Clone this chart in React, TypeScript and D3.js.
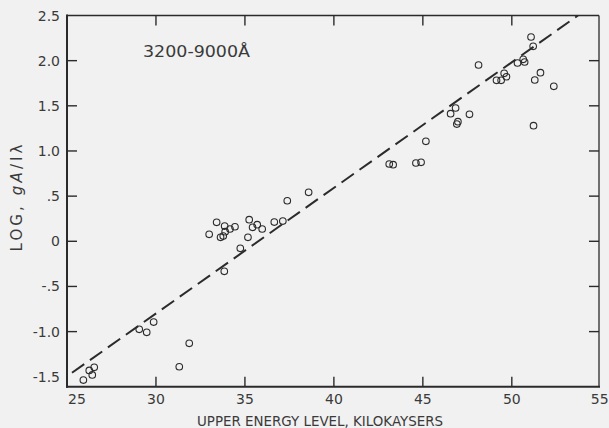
import React from "react";
import * as d3 from "d3";

const W = 609;
const H = 428;

// data
const energy = [
  25.92, 26.25, 26.42, 26.53, 29.06, 29.48, 29.87, 31.31, 31.87,
  32.99, 33.41, 33.63, 33.78, 33.86, 33.89, 34.16, 34.44, 33.84, 34.74,
  35.17, 35.24, 35.43, 35.69, 35.97, 36.65, 37.13, 37.38, 38.58,
  43.11, 43.33, 44.61, 44.9, 45.17, 46.56, 46.84, 46.91, 46.97, 47.62,
  48.13, 49.14, 49.4, 49.57, 49.7, 50.32, 50.64, 50.72, 51.08,
  51.2, 51.29, 51.61, 52.36, 51.22,
];
const logGA = [
  -1.537, -1.43, -1.48, -1.396, -0.975, -1.008, -0.894, -1.389, -1.13,
  0.077, 0.21, 0.044, 0.058, 0.169, 0.106, 0.136, 0.161, -0.333, -0.078,
  0.044, 0.239, 0.155, 0.184, 0.136, 0.213, 0.224, 0.449, 0.542,
  0.856, 0.848, 0.867, 0.874, 1.107, 1.413, 1.476, 1.298, 1.324, 1.406,
  1.952, 1.782, 1.782, 1.86, 1.822, 1.974, 2.015, 1.985, 2.262,
  2.159, 1.786, 1.867, 1.716, 1.28,
];

const fitX = [25.28, 53.72];
const fitY = [-1.456, 2.5];

const xTicks = [25, 30, 35, 40, 45, 50, 55];
const xTickLabels = ["25", "30", "35", "40", "45", "50", "55"];
const yTicks = [-1.5, -1.0, -0.5, 0, 0.5, 1.0, 1.5, 2.0, 2.5];
const yTickLabels = ["-1.5", "-1.0", "-.5", "0", ".5", "1.0", "1.5", "2.0", "2.5"];

const rangeLabel = "3200-9000Å";
const xTitle = "UPPER ENERGY LEVEL, KILOKAYSERS";

export default function App() {
  const left = 67, right = 599, top = 15.5, bottom = 386.7;
  const x = d3.scaleLinear().domain([25, 54.9]).range([left, right]);
  const y = d3.scaleLinear().domain([-1.61, 2.5]).range([bottom, top]);
  const ink = "#2b2b2b";
  const textInk = "#3a3a3a";
  const font = "'DejaVu Sans', sans-serif";
  const line = d3.line<number>().x((d, i) => x(fitX[i])).y((d, i) => y(fitY[i]));

  return (
    <svg
      width={W}
      height={H}
      style={{ position: "absolute", left: 0, top: 0, background: "#f1f1f1" }}
      fontFamily={font}
    >
      <rect x={0} y={0} width={W} height={H} fill="#f1f1f1" />
      {/* frame */}
      <line x1={left} y1={top} x2={right} y2={top} stroke={ink} strokeWidth={1.3} />
      <line x1={right} y1={top} x2={right} y2={bottom} stroke={ink} strokeWidth={1.3} />
      <line x1={left} y1={top - 1} x2={left} y2={bottom + 1} stroke={ink} strokeWidth={2} />
      <line x1={left - 1} y1={bottom} x2={right + 1} y2={bottom} stroke={ink} strokeWidth={2} />

      {/* x ticks */}
      {xTicks.map((t, i) => (
        <g key={"xt" + i}>
          {i > 0 && i < xTicks.length - 1 && (
            <>
              <line x1={x(t)} x2={x(t)} y1={bottom} y2={bottom - 10} stroke={ink} strokeWidth={1.4} />
              <line x1={x(t)} x2={x(t)} y1={top} y2={top + 10} stroke={ink} strokeWidth={1.4} />
            </>
          )}
          <text
            x={i === 0 ? x(t) + 10 : i === xTicks.length - 1 ? x(t) - 1 : x(t)}
            y={404}
            textAnchor="middle"
            fontSize={14}
            fill={textInk}
          >
            {xTickLabels[i]}
          </text>
        </g>
      ))}

      {/* y ticks */}
      {yTicks.map((t, i) => (
        <g key={"yt" + i}>
          {i > 0 && i < yTicks.length - 1 && (
            <>
              <line x1={left} x2={left + 10} y1={y(t)} y2={y(t)} stroke={ink} strokeWidth={1.4} />
              <line x1={right} x2={right - 10} y1={y(t)} y2={y(t)} stroke={ink} strokeWidth={1.4} />
            </>
          )}
          <text x={60} y={y(t) + 5} textAnchor="end" fontSize={14} fill={textInk}>
            {yTickLabels[i]}
          </text>
        </g>
      ))}

      {/* fit line */}
      <path
        d={line([0, 1]) || ""}
        fill="none"
        stroke={ink}
        strokeWidth={2}
        strokeDasharray="15,7"
      />

      {/* points */}
      {energy.map((e, i) => (
        <circle key={"p" + i} cx={x(e)} cy={y(logGA[i])} r={3.3} fill="none" stroke={ink} strokeWidth={1.1} />
      ))}

      {/* annotation */}
      <text x={143} y={57} fontSize={15} fill={textInk} textLength={107} lengthAdjust="spacingAndGlyphs">
        {rangeLabel}
      </text>

      {/* axis titles */}
      <text x={320} y={426} textAnchor="middle" fontSize={13.5} fill={textInk} textLength={246} lengthAdjust="spacingAndGlyphs">
        {xTitle}
      </text>
      <text
        transform="translate(22,198) rotate(-90)"
        textAnchor="middle"
        fontSize={15}
        fill={textInk}
        textLength={107}
        lengthAdjust="spacing"
      >
        LOG, <tspan fontStyle="italic">gA</tspan>/Iλ
      </text>
    </svg>
  );
}
